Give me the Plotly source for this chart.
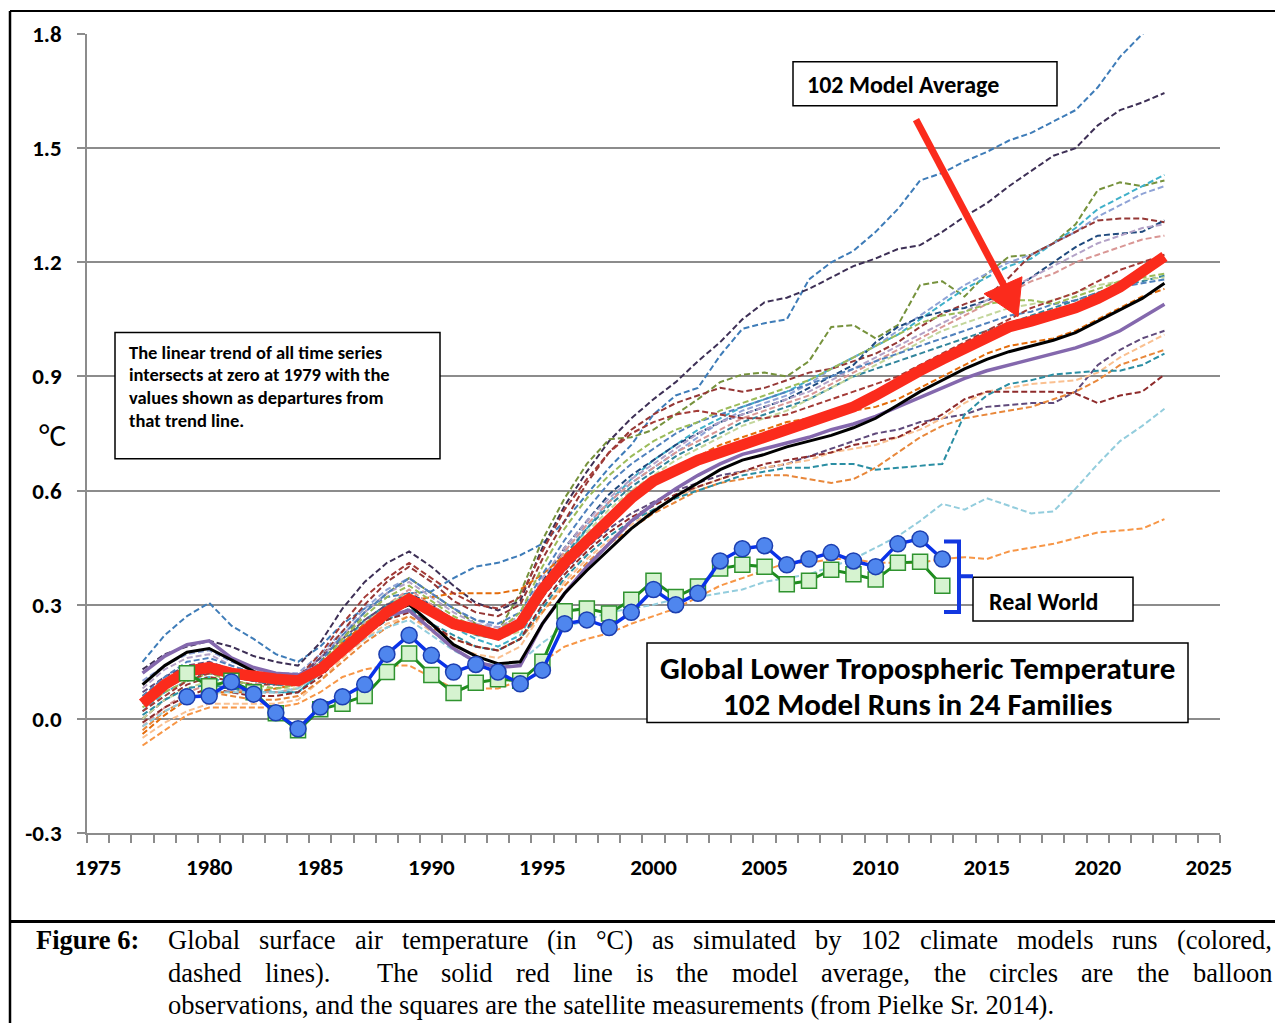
import plotly.graph_objects as go

# ---------------- data ----------------
years = list(range(1977, 2024))
obs_years = list(range(1979, 2014))

model_average = [0.04, 0.09, 0.125, 0.135, 0.12,
                 0.11, 0.105, 0.10, 0.13, 0.18,
                 0.23, 0.28, 0.315, 0.28, 0.25,
                 0.235, 0.22, 0.25, 0.34, 0.41,
                 0.47, 0.53, 0.58, 0.625, 0.655,
                 0.68, 0.70, 0.72, 0.74, 0.76,
                 0.78, 0.80, 0.82, 0.85, 0.885,
                 0.915, 0.945, 0.975, 1.005, 1.03,
                 1.045, 1.06, 1.08, 1.105, 1.135,
                 1.175, 1.215]

black_run = [0.09, 0.14, 0.175, 0.185, 0.155,
             0.125, 0.10, 0.09, 0.13, 0.19,
             0.24, 0.28, 0.30, 0.25, 0.195,
             0.165, 0.145, 0.15, 0.25, 0.33,
             0.39, 0.445, 0.50, 0.545, 0.585,
             0.62, 0.655, 0.68, 0.695, 0.715,
             0.73, 0.745, 0.765, 0.79, 0.825,
             0.86, 0.89, 0.92, 0.945, 0.965,
             0.98, 0.995, 1.015, 1.045, 1.075,
             1.105, 1.145]

purple_run = [0.12, 0.165, 0.195, 0.205, 0.16,
              0.135, 0.12, 0.115, 0.14, 0.19,
              0.235, 0.27, 0.285, 0.235, 0.185,
              0.15, 0.135, 0.14, 0.25, 0.33,
              0.40, 0.46, 0.52, 0.565, 0.605,
              0.64, 0.67, 0.695, 0.71, 0.725,
              0.74, 0.76, 0.775, 0.795, 0.82,
              0.845, 0.87, 0.895, 0.915, 0.93,
              0.945, 0.96, 0.975, 0.995, 1.02,
              1.055, 1.09]

run_01 = [0.15, 0.22, 0.27, 0.305, 0.245, 0.21, 0.17, 0.15, 0.19, 0.25,
          0.29, 0.32, 0.33, 0.335, 0.37, 0.40, 0.41, 0.43, 0.46, 0.52,
          0.59, 0.66, 0.72, 0.80, 0.85, 0.87, 0.955, 1.025, 1.04, 1.05,
          1.155, 1.20, 1.23, 1.28, 1.34, 1.415, 1.435, 1.465, 1.49, 1.52,
          1.54, 1.57, 1.60, 1.66, 1.74, 1.80, 1.84]
run_02 = [0.13, 0.17, 0.19, 0.205, 0.19, 0.165, 0.15, 0.14, 0.20, 0.29,
          0.36, 0.41, 0.44, 0.40, 0.35, 0.305, 0.285, 0.31, 0.45, 0.56,
          0.65, 0.73, 0.79, 0.84, 0.885, 0.94, 0.99, 1.05, 1.095, 1.107,
          1.13, 1.16, 1.19, 1.21, 1.235, 1.245, 1.28, 1.32, 1.355, 1.40,
          1.44, 1.48, 1.50, 1.56, 1.60, 1.62, 1.645]
run_03 = [0.06, 0.10, 0.13, 0.14, 0.12, 0.10, 0.09, 0.09, 0.15, 0.21,
          0.28, 0.33, 0.37, 0.33, 0.29, 0.25, 0.23, 0.33, 0.47, 0.58,
          0.67, 0.735, 0.74, 0.76, 0.80, 0.84, 0.885, 0.905, 0.91, 0.90,
          0.94, 1.03, 1.035, 1.0, 1.035, 1.14, 1.15, 1.11, 1.17, 1.215,
          1.22, 1.25, 1.30, 1.39, 1.41, 1.40, 1.415]
run_04 = [0.02, 0.07, 0.10, 0.11, 0.09, 0.08, 0.07, 0.07, 0.12, 0.18,
          0.24, 0.29, 0.32, 0.28, 0.24, 0.21, 0.19, 0.22, 0.32, 0.42,
          0.50, 0.57, 0.63, 0.68, 0.72, 0.76, 0.79, 0.82, 0.84, 0.86,
          0.89, 0.92, 0.95, 0.98, 1.01, 1.05, 1.09, 1.13, 1.16, 1.19,
          1.21, 1.25, 1.29, 1.34, 1.37, 1.40, 1.43]
run_05 = [0.10, 0.14, 0.17, 0.18, 0.15, 0.13, 0.12, 0.12, 0.17, 0.23,
          0.29, 0.34, 0.37, 0.33, 0.29, 0.26, 0.24, 0.26, 0.36, 0.44,
          0.51, 0.57, 0.62, 0.66, 0.70, 0.74, 0.78, 0.81, 0.83, 0.85,
          0.88, 0.92, 0.95, 0.98, 1.02, 1.06, 1.10, 1.14, 1.17, 1.20,
          1.22, 1.25, 1.28, 1.32, 1.35, 1.38, 1.40]
run_06 = [0.0, 0.05, 0.09, 0.11, 0.10, 0.09, 0.09, 0.10, 0.16, 0.23,
          0.30, 0.36, 0.40, 0.36, 0.31, 0.28, 0.27, 0.30, 0.42, 0.52,
          0.62, 0.70, 0.76, 0.80, 0.83, 0.85, 0.87, 0.86, 0.87, 0.89,
          0.91, 0.92, 0.94, 0.96, 0.99, 1.03, 1.065, 1.09, 1.11, 1.16,
          1.22, 1.25, 1.28, 1.31, 1.315, 1.315, 1.305]
run_07 = [0.04, 0.08, 0.11, 0.12, 0.11, 0.10, 0.09, 0.09, 0.13, 0.19,
          0.25, 0.30, 0.33, 0.30, 0.26, 0.24, 0.23, 0.26, 0.36, 0.45,
          0.52, 0.59, 0.64, 0.68, 0.72, 0.75, 0.78, 0.80, 0.82, 0.84,
          0.87, 0.90, 0.93, 0.99, 1.03, 1.055, 1.07, 1.08, 1.10, 1.12,
          1.16, 1.20, 1.24, 1.27, 1.275, 1.28, 1.31]
run_08 = [0.08, 0.13, 0.16, 0.17, 0.14, 0.12, 0.11, 0.11, 0.16, 0.22,
          0.28, 0.33, 0.36, 0.32, 0.28, 0.25, 0.24, 0.27, 0.37, 0.45,
          0.52, 0.58, 0.63, 0.67, 0.71, 0.75, 0.78, 0.80, 0.82, 0.84,
          0.86, 0.89, 0.92, 0.95, 0.98, 1.01, 1.04, 1.07, 1.10, 1.13,
          1.16, 1.19, 1.22, 1.25, 1.27, 1.29, 1.30]
run_09 = [-0.02, 0.03, 0.07, 0.09, 0.08, 0.07, 0.07, 0.08, 0.13, 0.19,
          0.25, 0.30, 0.34, 0.30, 0.26, 0.23, 0.22, 0.25, 0.35, 0.44,
          0.51, 0.57, 0.62, 0.66, 0.70, 0.73, 0.76, 0.79, 0.81, 0.83,
          0.85, 0.88, 0.91, 0.94, 0.97, 1.00, 1.03, 1.06, 1.09, 1.12,
          1.15, 1.17, 1.20, 1.22, 1.24, 1.26, 1.27]
run_10 = [0.05, 0.09, 0.12, 0.13, 0.11, 0.10, 0.09, 0.09, 0.14, 0.20,
          0.26, 0.30, 0.33, 0.29, 0.25, 0.22, 0.21, 0.24, 0.34, 0.43,
          0.50, 0.56, 0.61, 0.65, 0.69, 0.72, 0.75, 0.78, 0.80, 0.82,
          0.84, 0.87, 0.90, 0.92, 0.94, 0.96, 0.98, 1.00, 1.02, 1.04,
          1.06, 1.08, 1.10, 1.12, 1.14, 1.15, 1.165]
run_11 = [0.00, 0.05, 0.08, 0.10, 0.09, 0.08, 0.08, 0.08, 0.13, 0.19,
          0.25, 0.30, 0.33, 0.29, 0.25, 0.22, 0.21, 0.23, 0.33, 0.42,
          0.49, 0.55, 0.60, 0.64, 0.68, 0.71, 0.74, 0.77, 0.79, 0.81,
          0.84, 0.87, 0.90, 0.93, 0.96, 0.99, 1.02, 1.04, 1.06, 1.08,
          1.09, 1.10, 1.12, 1.14, 1.15, 1.155, 1.16]
run_12 = [-0.04, 0.01, 0.05, 0.07, 0.07, 0.07, 0.08, 0.09, 0.14, 0.20,
          0.25, 0.29, 0.31, 0.32, 0.33, 0.33, 0.33, 0.34, 0.38, 0.43,
          0.48, 0.53, 0.58, 0.62, 0.66, 0.69, 0.72, 0.74, 0.76, 0.78,
          0.79, 0.80, 0.81, 0.82, 0.84, 0.87, 0.90, 0.93, 0.96, 0.98,
          0.99, 1.00, 1.02, 1.05, 1.08, 1.11, 1.13]
run_13 = [0.07, 0.11, 0.14, 0.15, 0.13, 0.12, 0.11, 0.11, 0.16, 0.21,
          0.26, 0.30, 0.32, 0.29, 0.26, 0.24, 0.23, 0.24, 0.32, 0.39,
          0.45, 0.50, 0.54, 0.57, 0.60, 0.62, 0.64, 0.65, 0.66, 0.67,
          0.69, 0.71, 0.73, 0.75, 0.76, 0.78, 0.79, 0.80, 0.82, 0.825,
          0.83, 0.83, 0.86, 0.93, 0.97, 1.00, 1.02]
run_14 = [-0.05, -0.01, 0.02, 0.04, 0.04, 0.04, 0.04, 0.05, 0.10, 0.16,
          0.21, 0.25, 0.27, 0.23, 0.19, 0.17, 0.16, 0.19, 0.28, 0.36,
          0.42, 0.47, 0.51, 0.55, 0.58, 0.61, 0.63, 0.65, 0.66, 0.67,
          0.68, 0.70, 0.71, 0.72, 0.74, 0.76, 0.79, 0.83, 0.86, 0.87,
          0.88, 0.885, 0.89, 0.91, 0.95, 0.98, 1.01]
run_15 = [-0.03, 0.02, 0.05, 0.07, 0.06, 0.05, 0.05, 0.06, 0.10, 0.15,
          0.20, 0.24, 0.27, 0.24, 0.21, 0.19, 0.18, 0.21, 0.28, 0.35,
          0.41, 0.46, 0.50, 0.54, 0.57, 0.60, 0.62, 0.63, 0.64, 0.64,
          0.63, 0.62, 0.63, 0.66, 0.70, 0.74, 0.77, 0.79, 0.80, 0.81,
          0.82, 0.84, 0.86, 0.89, 0.93, 0.95, 0.97]
run_16 = [0.01, 0.05, 0.08, 0.09, 0.08, 0.07, 0.07, 0.07, 0.12, 0.17,
          0.22, 0.26, 0.29, 0.25, 0.22, 0.19, 0.18, 0.21, 0.29, 0.37,
          0.43, 0.48, 0.52, 0.55, 0.58, 0.60, 0.62, 0.64, 0.65, 0.66,
          0.66, 0.67, 0.67, 0.655, 0.66, 0.665, 0.67, 0.80, 0.85, 0.88,
          0.89, 0.905, 0.91, 0.915, 0.915, 0.93, 0.96]
run_17 = [-0.01, 0.03, 0.06, 0.08, 0.07, 0.06, 0.06, 0.07, 0.11, 0.17,
          0.22, 0.26, 0.28, 0.25, 0.21, 0.19, 0.18, 0.21, 0.30, 0.38,
          0.44, 0.49, 0.53, 0.56, 0.59, 0.61, 0.63, 0.65, 0.67, 0.68,
          0.69, 0.70, 0.72, 0.73, 0.74, 0.77, 0.80, 0.84, 0.86, 0.86,
          0.86, 0.86, 0.855, 0.83, 0.85, 0.86, 0.905]
run_18 = [-0.02, 0.02, 0.05, 0.07, 0.07, 0.07, 0.07, 0.08, 0.12, 0.17,
          0.21, 0.24, 0.26, 0.22, 0.18, 0.15, 0.14, 0.15, 0.20, 0.24,
          0.26, 0.28, 0.29, 0.30, 0.315, 0.32, 0.33, 0.34, 0.36, 0.37,
          0.38, 0.40, 0.42, 0.45, 0.48, 0.52, 0.565, 0.55, 0.58, 0.56,
          0.54, 0.545, 0.605, 0.67, 0.73, 0.77, 0.815]
run_19 = [-0.07, -0.03, 0.01, 0.03, 0.03, 0.03, 0.03, 0.04, 0.07, 0.11,
          0.13, 0.14, 0.14, 0.11, 0.08, 0.08, 0.08, 0.10, 0.15, 0.19,
          0.21, 0.225, 0.25, 0.27, 0.29, 0.32, 0.35, 0.37, 0.39, 0.41,
          0.41, 0.42, 0.42, 0.41, 0.41, 0.41, 0.42, 0.425, 0.42, 0.44,
          0.45, 0.46, 0.475, 0.49, 0.495, 0.50, 0.525]
run_20 = [0.06, 0.11, 0.15, 0.16, 0.14, 0.12, 0.11, 0.10, 0.15, 0.22,
          0.28, 0.33, 0.37, 0.33, 0.29, 0.26, 0.25, 0.28, 0.38, 0.47,
          0.55, 0.62, 0.67, 0.71, 0.75, 0.78, 0.80, 0.82, 0.84, 0.86,
          0.88, 0.90, 0.92, 0.94, 0.96, 0.98, 1.00, 1.02, 1.04, 1.06,
          1.07, 1.09, 1.10, 1.12, 1.135, 1.145, 1.155]
run_21 = [0.03, 0.07, 0.10, 0.12, 0.10, 0.09, 0.08, 0.09, 0.14, 0.21,
          0.27, 0.32, 0.35, 0.31, 0.27, 0.24, 0.23, 0.28, 0.40, 0.50,
          0.58, 0.64, 0.69, 0.73, 0.76, 0.78, 0.81, 0.83, 0.85, 0.87,
          0.89, 0.92, 0.95, 0.98, 1.01, 1.04, 1.06, 1.07, 1.09, 1.10,
          1.10, 1.09, 1.11, 1.13, 1.15, 1.16, 1.17]
run_22 = [0.02, 0.06, 0.10, 0.12, 0.11, 0.10, 0.10, 0.11, 0.17, 0.25,
          0.32, 0.37, 0.41, 0.37, 0.33, 0.30, 0.29, 0.32, 0.44, 0.55,
          0.63, 0.70, 0.75, 0.78, 0.80, 0.81, 0.80, 0.79, 0.79, 0.80,
          0.82, 0.84, 0.86, 0.88, 0.90, 0.93, 0.96, 0.99, 1.02, 1.05,
          1.08, 1.10, 1.12, 1.15, 1.18, 1.20, 1.22]

balloon = [0.058, 0.06, 0.097, 0.065, 0.016, -0.026, 0.031, 0.058, 0.09, 0.17,
           0.22, 0.167, 0.123, 0.143, 0.123, 0.092, 0.128, 0.25, 0.26, 0.24,
           0.28, 0.34, 0.30, 0.33, 0.415, 0.447, 0.455, 0.405, 0.42, 0.437,
           0.415, 0.40, 0.46, 0.473, 0.42]
satellite = [0.12, 0.086, 0.10, 0.07, 0.015, -0.03, 0.025, 0.04, 0.06, 0.123,
             0.172, 0.115, 0.068, 0.095, 0.104, 0.10, 0.15, 0.283, 0.29, 0.277,
             0.313, 0.363, 0.32, 0.348, 0.395, 0.405, 0.40, 0.354, 0.363, 0.392,
             0.38, 0.366, 0.41, 0.413, 0.35]

y_ticks = [-0.3, 0.0, 0.3, 0.6, 0.9, 1.2, 1.5, 1.8]
y_tick_text = ["-0.3", "0.0", "0.3", "0.6", "0.9", "1.2", "1.5", "1.8"]
x_ticks = [1975, 1980, 1985, 1990, 1995, 2000, 2005, 2010, 2015, 2020, 2025]

# ---------------- styles ----------------
dashed_runs = [run_01, run_02, run_03, run_04, run_05, run_06, run_07, run_08,
               run_09, run_10, run_11, run_12, run_13, run_14, run_15, run_16,
               run_17, run_18, run_19, run_20, run_21, run_22]
dashed_colors = ["#3e7cb8", "#3d2f55", "#76923c", "#3fb0c9", "#8fa3d6", "#953735",
                 "#1f497d", "#b3a2c7", "#d99694", "#31859c", "#c3d69b", "#e46c0a",
                 "#604a7b", "#fac090", "#e8873a", "#2a8ea3", "#8e2b2b", "#93cddd",
                 "#f79646", "#4f81bd", "#9bbb59", "#a33a36"]

OFF = 8  # page body margin of the html page
W, H = 1283 - OFF, 1023 - OFF
PL, PR, PT, PB = 87, 1220, 30, 833  # plot area in page pixels
ML, MR, MT, MB = PL - OFF, W - (PR - OFF), PT - OFF, H - (PB - OFF)
PW, PH = PR - PL, PB - PT


def px(x):
    return (x - PL) / PW


def py(y):
    return (PB - y) / PH


SANS = "Calibri, Carlito, Lato, sans-serif"
SERIF = "Liberation Serif, Times New Roman, serif"
GRID = "#8c8c8c"

fig = go.Figure()
for vals, col in zip(dashed_runs, dashed_colors):
    fig.add_trace(go.Scatter(x=years, y=vals, mode="lines",
                             line=dict(color=col, width=2, dash="6px,3px"),
                             hoverinfo="skip", showlegend=False))
fig.add_trace(go.Scatter(x=years, y=purple_run, mode="lines",
                         line=dict(color="#8468ad", width=3.5), showlegend=False))
fig.add_trace(go.Scatter(x=years, y=black_run, mode="lines",
                         line=dict(color="#000000", width=3), showlegend=False))
fig.add_trace(go.Scatter(x=years, y=model_average, mode="lines",
                         line=dict(color="#fb2b1c", width=11), showlegend=False))
fig.add_trace(go.Scatter(x=obs_years, y=satellite, mode="lines+markers",
                         line=dict(color="#1e8c1e", width=3),
                         marker=dict(symbol="square", size=15, color="#d6f3d0",
                                     line=dict(color="#2f932f", width=1.5)),
                         showlegend=False))
fig.add_trace(go.Scatter(x=obs_years, y=balloon, mode="lines+markers",
                         line=dict(color="#0a32e8", width=3.5),
                         marker=dict(symbol="circle", size=16, color="#4f86ee",
                                     line=dict(color="#1c3fb0", width=1.5)),
                         showlegend=False))

shapes = []
# page frame
shapes.append(dict(type="line", xref="paper", yref="paper", x0=px(10), x1=px(1290), y0=py(7), y1=py(7),
                   line=dict(color="black", width=2)))
shapes.append(dict(type="line", xref="paper", yref="paper", x0=px(10), x1=px(10), y0=py(7), y1=py(1030),
                   line=dict(color="black", width=2.5)))
shapes.append(dict(type="line", xref="paper", yref="paper", x0=px(10), x1=px(1290), y0=py(922), y1=py(922),
                   line=dict(color="black", width=3)))
# text boxes
for (x0, y0, x1, y1) in [(115, 330, 440, 457), (793, 58, 1057, 102), (973, 576, 1133, 620), (647, 642, 1188, 722)]:
    shapes.append(dict(type="rect", xref="paper", yref="paper", x0=px(x0), x1=px(x1), y0=py(y0), y1=py(y1),
                       line=dict(color="black", width=1.5), fillcolor="white", layer="above"))
# red arrow
shapes.append(dict(type="line", xref="paper", yref="paper", x0=px(916), y0=py(116), x1=px(1005), y1=py(285),
                   line=dict(color="#fb2b1c", width=7), layer="above"))
hp = [(1018, 314), (1022, 274), (984, 291)]
path = "M {} {} L {} {} L {} {} Z".format(px(hp[0][0]), py(hp[0][1]), px(hp[1][0]), py(hp[1][1]),
                                         px(hp[2][0]), py(hp[2][1]))
shapes.append(dict(type="path", xref="paper", yref="paper", path=path, fillcolor="#fb2b1c",
                   line=dict(color="#fb2b1c", width=1), layer="above"))
# blue bracket
bp = "M {} {} L {} {} L {} {} L {} {} M {} {} L {} {}".format(
    px(944), py(540), px(959), py(540), px(959), py(611), px(944), py(611), px(959), py(575), px(973), py(575))
shapes.append(dict(type="path", xref="paper", yref="paper", path=bp,
                   line=dict(color="#1237e0", width=4), layer="above"))

ann = []


def add_text(text, x, y, size, family=SANS, weight="bold", xanchor="left"):
    ann.append(dict(text=text, x=px(x), y=py(y), xref="paper", yref="paper", xanchor=xanchor,
                    yanchor="middle", showarrow=False, borderpad=0,
                    font=dict(family=family, size=size, color="black", weight=weight)))


for i, t in enumerate(["The linear trend of all time series", "intersects at zero at 1979 with the",
                       "values shown as departures from", "that trend line."]):
    add_text(t, 128, 350 + i * 22.7, 18.5)
add_text("102 Model Average", 806, 81, 24)
add_text("Real World", 988, 600, 24)
add_text("Global Lower Tropospheric Temperature", 917.5, 667, 31, xanchor="center")
add_text("102 Model Runs in 24 Families", 917.5, 703, 31, xanchor="center")
add_text("°C", 52, 433, 31, weight="normal", xanchor="center")

# caption (justified, Times metrics)
TIMES = {" ": 250, "(": 333, ")": 333, ",": 250, "-": 333, ".": 250, ":": 278, "°": 400,
         "A": 722, "B": 667, "C": 667, "D": 722, "E": 611, "F": 556, "G": 722, "H": 722, "I": 333,
         "J": 389, "K": 722, "L": 611, "M": 889, "N": 722, "O": 722, "P": 556, "Q": 722, "R": 667,
         "S": 556, "T": 611, "U": 722, "V": 722, "W": 944, "X": 722, "Y": 722, "Z": 611,
         "a": 444, "b": 500, "c": 444, "d": 500, "e": 444, "f": 333, "g": 500, "h": 500, "i": 278,
         "j": 278, "k": 500, "l": 278, "m": 778, "n": 500, "o": 500, "p": 500, "q": 500, "r": 333,
         "s": 389, "t": 278, "u": 500, "v": 500, "w": 722, "x": 500, "y": 500, "z": 444}
CAP = 26.5


def tw(s):
    return sum(TIMES.get(c, 500) for c in s) / 1000 * CAP


def justify(words, weights, x0, x1, y):
    widths = [tw(w) for w in words]
    extra = (x1 - x0) - sum(widths)
    unit = extra / sum(weights)
    x = x0
    for i, w in enumerate(words):
        add_text(w, x, y, CAP, family=SERIF, weight="normal")
        if i < len(weights):
            x += widths[i] + unit * weights[i]


add_text("Figure 6:", 35, 941, CAP, family=SERIF, weight="bold")
l1 = "Global surface air temperature (in °C) as simulated by 102 climate models runs (colored,".split(" ")
justify(l1, [1] * (len(l1) - 1), 167, 1271, 941)
l2 = ["dashed", "lines).", "The", "solid", "red", "line", "is", "the", "model", "average,", "the",
      "circles", "are", "the", "balloon"]
w2 = [1] * (len(l2) - 1)
w2[1] = 2
justify(l2, w2, 167, 1271, 974)
add_text("observations, and the squares are the satellite measurements (from Pielke Sr. 2014).",
         167, 1006, CAP, family=SERIF, weight="normal")

fig.update_layout(
    width=W, height=H, margin=dict(l=ML, r=MR, t=MT, b=MB),
    paper_bgcolor="white", plot_bgcolor="white",
    shapes=shapes, annotations=ann, showlegend=False,
    xaxis=dict(range=[1974.5, 2025.5], tickmode="array", tickvals=x_ticks,
               ticks="", showgrid=False, zeroline=False, showline=True, linecolor=GRID, linewidth=1.5,
               tickfont=dict(family=SANS, size=23, color="black", weight="bold"),
               ticklabelstandoff=13,
               minor=dict(ticks="outside", ticklen=8, tickwidth=1.5, tickcolor=GRID,
                          tick0=1974.5, dtick=1, showgrid=False)),
    yaxis=dict(range=[-0.3, 1.8], tickmode="array", tickvals=y_ticks, ticktext=y_tick_text,
               ticks="outside", ticklen=8, tickwidth=1.5, tickcolor=GRID,
               showgrid=True, gridcolor=GRID, gridwidth=1.5, zeroline=False,
               showline=True, linecolor=GRID, linewidth=1.5,
               tickfont=dict(family=SANS, size=23, color="black", weight="bold"),
               ticklabelstandoff=11),
)

fig.write_html("out.html")
